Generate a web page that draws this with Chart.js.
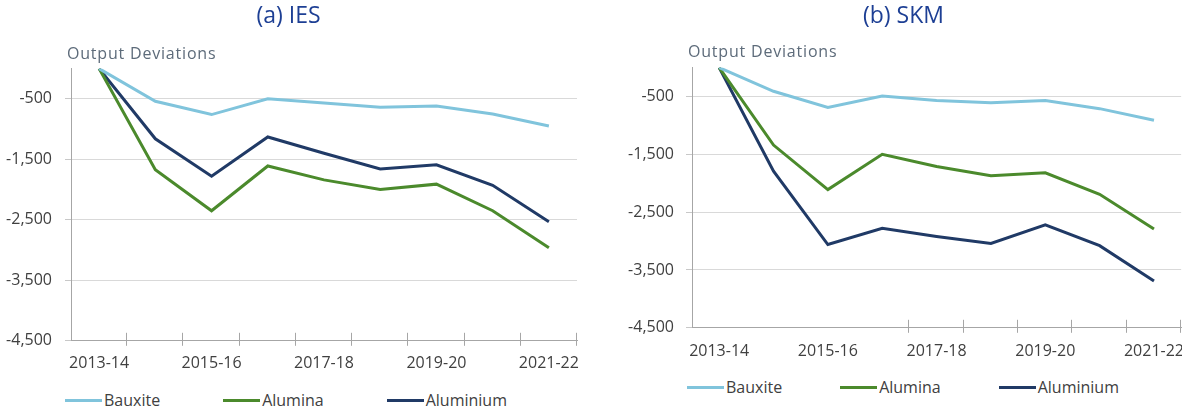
<!DOCTYPE html>
<html>
<head>
<meta charset="utf-8">
<script src="https://cdn.jsdelivr.net/npm/chart.js@4.4.0/dist/chart.umd.min.js"></script>
<style>
  html, body { margin: 0; padding: 0; background: #fff; overflow: hidden; }
  body { width: 1182px; height: 412px; position: relative; font-family: "Open Sans", sans-serif; }
  canvas { position: absolute; top: 0; }
  #chartA { left: 0; }
  #chartB { left: 620px; }
  .legend { position: absolute; display: flex; font-size: 16px; line-height: 22px; color: #404040; white-space: nowrap; }
  #legendA { left: 65px; top: 389px; gap: 63px; }
  #legendB { left: 687px; top: 376px; gap: 58px; }
  .legend .item { display: flex; align-items: center; }
  .legend i { display: inline-block; width: 37px; height: 3px; margin-right: 2px; }
</style>
</head>
<body>
<canvas id="chartA" width="594" height="380"></canvas>
<canvas id="chartB" width="567" height="370"></canvas>
<div class="legend" id="legendA"></div>
<div class="legend" id="legendB"></div>
<script>
// years on the x axis, only every other one is labelled
const years = ['2013-14', '2014-15', '2015-16', '2016-17', '2017-18', '2018-19', '2019-20', '2020-21', '2021-22'];
const xTickLabels = ['2013-14', '', '2015-16', '', '2017-18', '', '2019-20', '', '2021-22'];
const yTicks = [-4500, -3500, -2500, -1500, -500];

// (a) IES
const iesBauxite = [0, -540, -760, -500, -570, -640, -620, -750, -950];
const iesAlumina = [0, -1670, -2350, -1610, -1840, -2000, -1910, -2350, -2960];
const iesAluminium = [0, -1160, -1780, -1130, -1400, -1660, -1590, -1930, -2530];

// (b) SKM
const skmBauxite = [0, -410, -690, -490, -570, -610, -570, -710, -910];
const skmAlumina = [0, -1340, -2110, -1500, -1710, -1870, -1820, -2190, -2790];
const skmAluminium = [0, -1790, -3060, -2780, -2920, -3040, -2720, -3080, -3690];

const colors = { bauxite: '#80c4dc', alumina: '#4b8a2c', aluminium: '#203a66' };

Chart.defaults.font.family = '"Open Sans", sans-serif';
Chart.defaults.font.size = 16;
Chart.defaults.color = '#404040';

// little tick marks crossing the x axis at the category edges
const crossTicks = {
  id: 'crossTicks',
  afterDraw(chart, args, opts) {
    const x = chart.scales.x;
    const n = x.ticks.length;
    const step = x.width / n;
    const ctx = chart.ctx;
    ctx.save();
    ctx.strokeStyle = '#a6a6a6';
    ctx.lineWidth = 1;
    for (let k = 1; k <= n; k++) {
      if (opts.skip && opts.skip.includes(k)) continue;
      const px = Math.round(x.left + k * step) - 0.5;
      ctx.beginPath();
      ctx.moveTo(px, x.top - 8);
      ctx.lineTo(px, x.top + 5);
      ctx.stroke();
    }
    ctx.restore();
  }
};

// "Output Deviations" written above the y axis
const caption = {
  id: 'caption',
  afterDraw(chart, args, opts) {
    const { ctx, chartArea } = chart;
    ctx.save();
    ctx.font = '16px "Open Sans", sans-serif';
    ctx.letterSpacing = '0.8px';
    ctx.fillStyle = '#5d6b7a';
    ctx.textBaseline = 'middle';
    ctx.fillText(opts.text, chartArea.left - 4, chartArea.top - opts.offset);
    ctx.restore();
  }
};

function makeChart(id, title, series, cfg) {
  const ctx = document.getElementById(id).getContext('2d');
  return new Chart(ctx, {
    type: 'line',
    data: {
      labels: years,
      datasets: [
        { label: 'Bauxite', data: series[0], borderColor: colors.bauxite, backgroundColor: colors.bauxite },
        { label: 'Alumina', data: series[1], borderColor: colors.alumina, backgroundColor: colors.alumina },
        { label: 'Aluminium', data: series[2], borderColor: colors.aluminium, backgroundColor: colors.aluminium },
      ],
    },
    options: {
      responsive: false,
      animation: false,
      layout: { padding: { right: cfg.padRight, bottom: cfg.padBottom } },
      elements: {
        line: { borderWidth: 3, tension: 0, fill: false },
        point: { radius: 0, hoverRadius: 0 },
      },
      plugins: {
        legend: { display: false },
        tooltip: { enabled: false },
        title: {
          display: true,
          text: title,
          color: '#1d3f94',
          font: { size: 23, weight: 'normal' },
          padding: { top: 3, bottom: cfg.titleBottom },
        },
        caption: { text: 'Output Deviations', offset: cfg.captionOffset },
        crossTicks: { skip: cfg.skipTicks },
      },
      scales: {
        x: {
          offset: true,
          grid: { offset: true, drawOnChartArea: false, drawTicks: true, tickLength: cfg.xTickLength, tickColor: 'transparent' },
          border: { color: '#a6a6a6' },
          ticks: {
            autoSkip: false,
            maxRotation: 0,
            padding: 3,
            callback: (v, i) => xTickLabels[i],
          },
        },
        y: {
          min: -4500,
          max: 0,
          afterBuildTicks: (scale) => { scale.ticks = yTicks.map(v => ({ value: v })); },
          afterFit: (scale) => { scale.width = cfg.yWidth; },
          grid: { color: '#d9d9d9', tickLength: 6, tickColor: '#c8c8c8' },
          border: { color: '#a6a6a6' },
          ticks: {
            padding: cfg.yPad,
            callback: (v) => v.toLocaleString('en-US'),
          },
        },
      },
    },
    plugins: [crossTicks, caption],
  });
}

function buildLegend(chart, el) {
  chart.data.datasets.forEach(ds => {
    const item = document.createElement('span');
    item.className = 'item';
    const sw = document.createElement('i');
    sw.style.background = ds.borderColor;
    item.appendChild(sw);
    item.appendChild(document.createTextNode(ds.label));
    el.appendChild(item);
  });
}

const chartA = makeChart('chartA', '(a) IES', [iesBauxite, iesAlumina, iesAluminium], {
  padRight: 17, padBottom: 4, titleBottom: 38, captionOffset: 14, skipTicks: [],
  xTickLength: 10, yWidth: 71, yPad: 13,
});
const chartB = makeChart('chartB', '(b) SKM', [skmBauxite, skmAlumina, skmAluminium], {
  padRight: 0, padBottom: 6, titleBottom: 37, captionOffset: 15, skipTicks: [1, 2, 3],
  xTickLength: 11, yWidth: 72, yPad: 12,
});

buildLegend(chartA, document.getElementById('legendA'));
buildLegend(chartB, document.getElementById('legendB'));
</script>
</body>
</html>
